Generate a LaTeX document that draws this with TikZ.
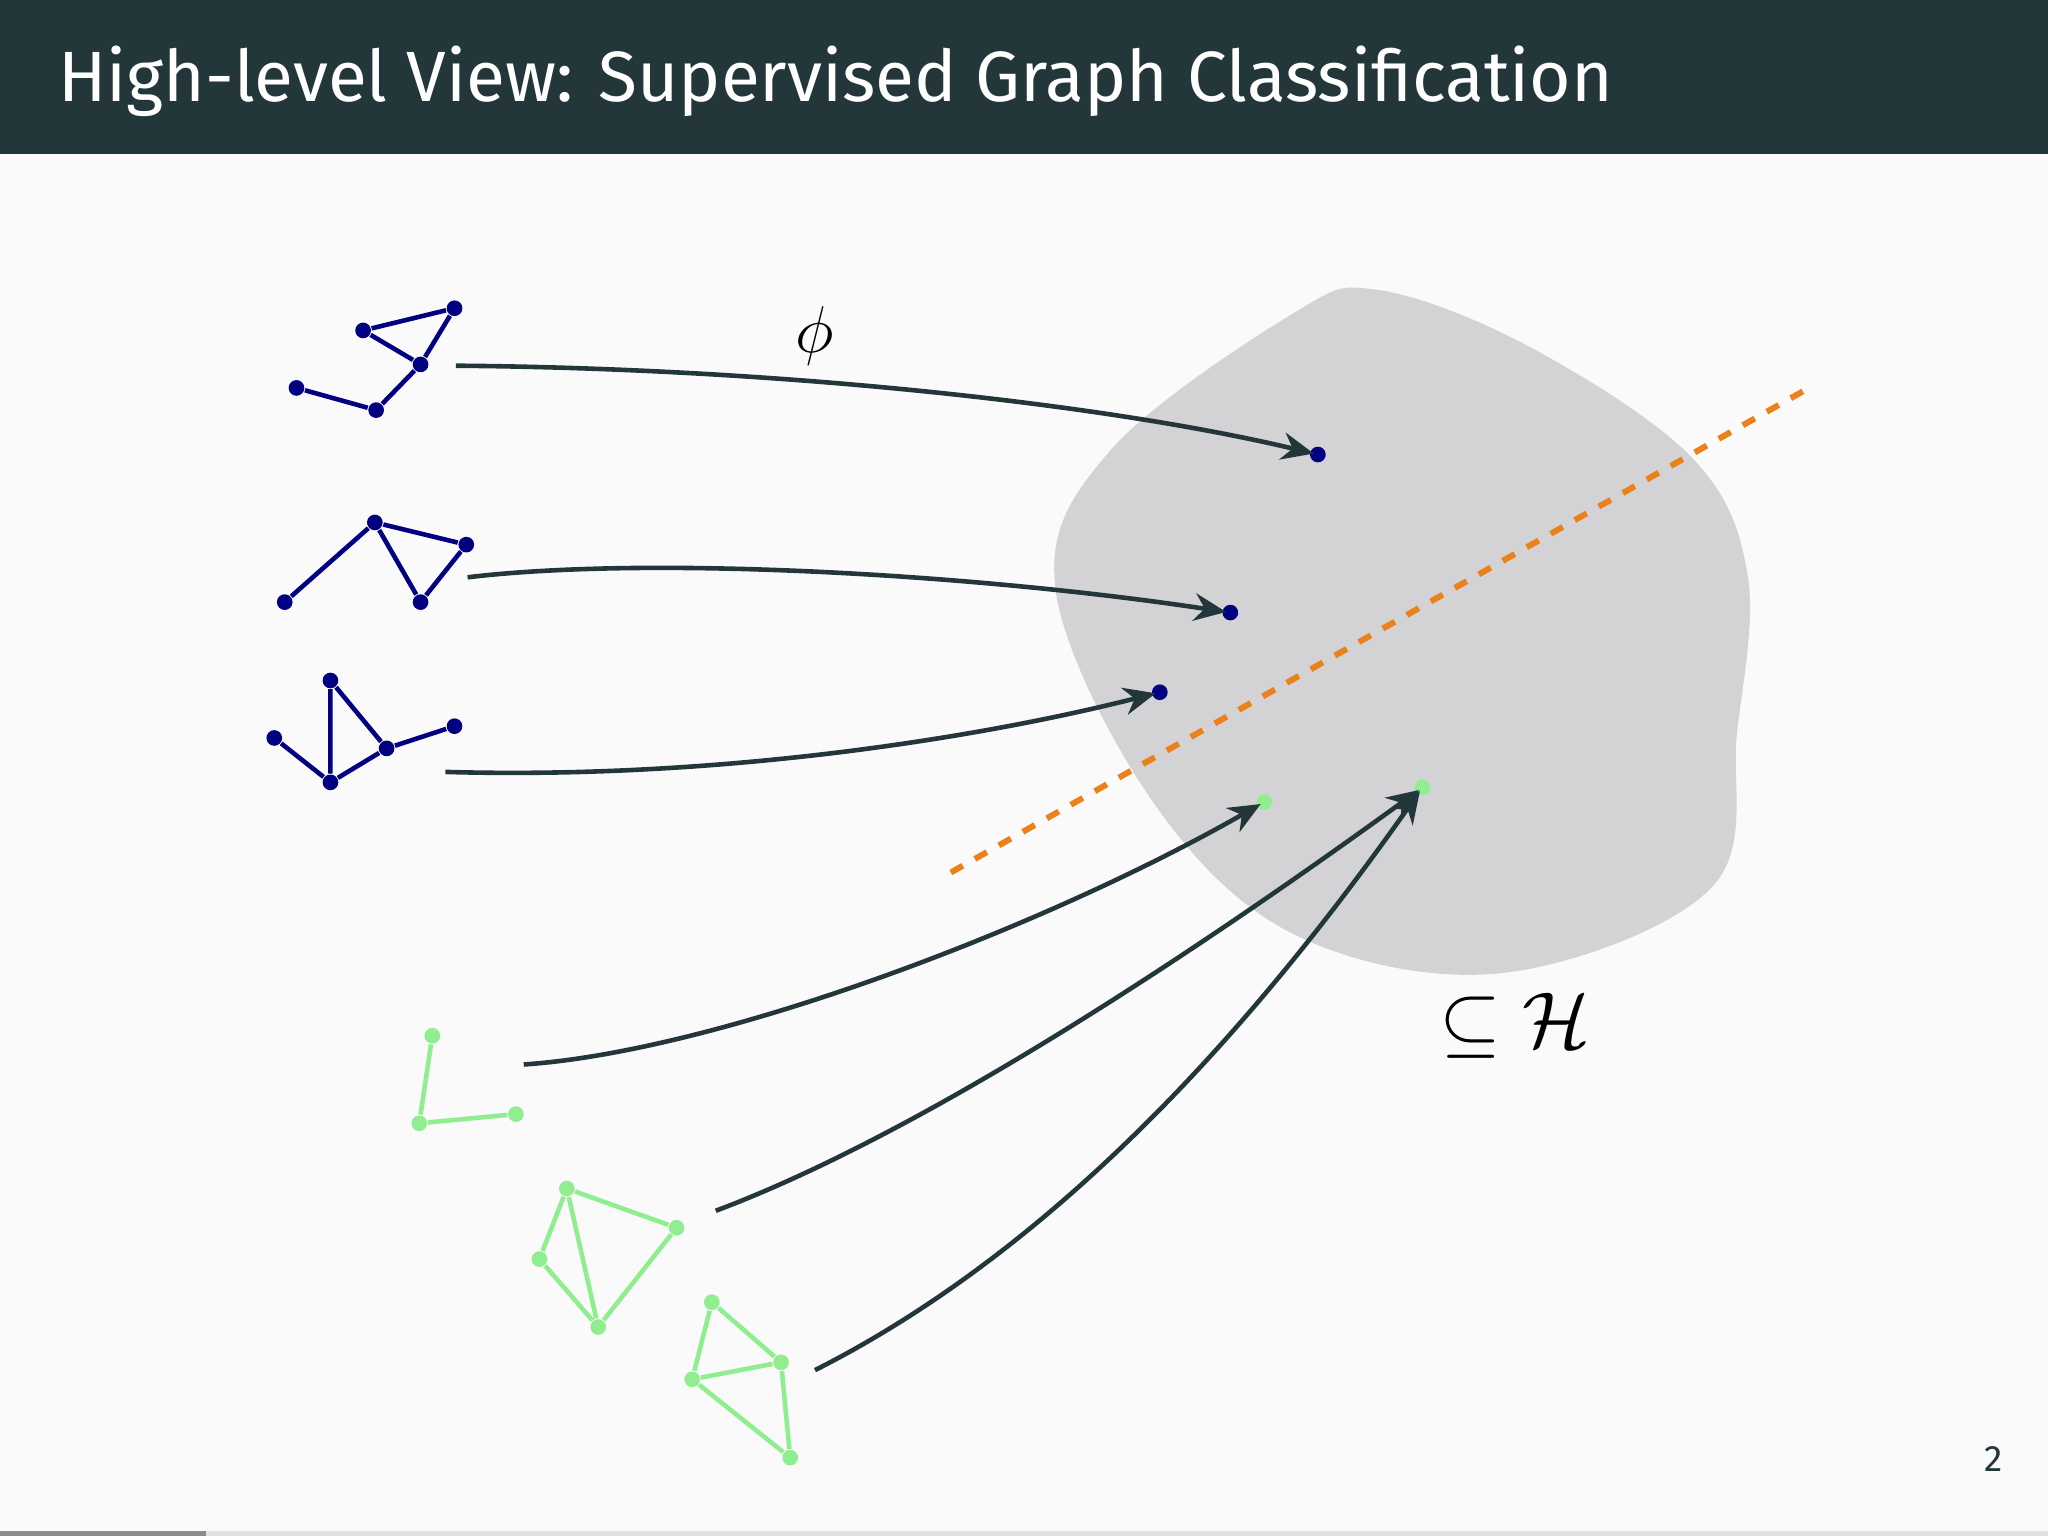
\documentclass[tikz,border=0pt]{standalone}
\usepackage{fontspec}
\setmainfont{Fira Sans}
\usetikzlibrary{arrows.meta}
\definecolor{mDark}{HTML}{23373B}
\definecolor{mBg}{HTML}{FAFAFA}
\definecolor{mOrange}{HTML}{EB811B}
\definecolor{blob}{HTML}{D3D3D5}
\definecolor{gnavy}{HTML}{000080}
\definecolor{ggreen}{HTML}{90EE90}
\tikzset{
 bdot/.style={circle,fill=gnavy,inner sep=0pt,minimum size=0.12cm},
 gdot/.style={circle,fill=ggreen,inner sep=0pt,minimum size=0.12cm},
 bedge/.style={draw=gnavy,line width=1pt},
 gedge/.style={draw=ggreen,line width=1pt},
 maparrow/.style={draw=mDark,line width=1pt,-{Stealth[length=7pt,width=6pt]},shorten >=-1pt},
}
\begin{document}
\begin{tikzpicture}[x=0.01cm,y=-0.01cm]
\useasboundingbox (0,0) rectangle (1568,1176);
\fill[mBg] (0,0) rectangle (1568,1176);
\fill[mDark] (0,0) rectangle (1568,118);
\node[anchor=base west,text=white,inner sep=0pt,font=\fontsize{15.5}{19}\selectfont] (title) at (44,78) {High-level View: Supervised Graph Classification};
\fill[black!10!mBg] (0,1172) rectangle (1568,1176);
\fill[black!45] (0,1172) rectangle (158,1176);
\node[font=\fontsize{8}{10}\selectfont,text=mDark] (pg) at (1526,1117) {2};
% blob
\fill[blob] plot[smooth cycle,tension=0.6] coordinates {(1055,222) (1170,265) (1295,350) (1338,440) (1330,560) (1310,680) (1150,745) (990,715) (880,610) (808,450) (850,345) (990,240)};
\draw[mOrange,line width=1.3pt,dashed] (728,668) -- (1385,297);
% targets
\node[bdot] (t1) at (1009,348) {};
\node[bdot] (t2) at (942,469) {};
\node[bdot] (t3) at (888,530) {};
\node[gdot] (t4) at (968,614) {};
\node[gdot] (t5) at (1089,603) {};
% graph 1
\node[bdot] (a1) at (278,253) {}; \node[bdot] (a2) at (348,236) {}; \node[bdot] (a3) at (322,279) {};
\node[bdot] (a4) at (288,314) {}; \node[bdot] (a5) at (227,297) {};
\draw[bedge] (a1)--(a2) (a1)--(a3) (a2)--(a3) (a3)--(a4) (a4)--(a5);
% graph 2
\node[bdot] (b1) at (287,400) {}; \node[bdot] (b2) at (357,417) {}; \node[bdot] (b3) at (322,461) {}; \node[bdot] (b4) at (218,461) {};
\draw[bedge] (b1)--(b2) (b2)--(b3) (b3)--(b1) (b1)--(b4);
% graph 3
\node[bdot] (c1) at (253,521) {}; \node[bdot] (c2) at (296,573) {}; \node[bdot] (c3) at (253,599) {};
\node[bdot] (c4) at (210,565) {}; \node[bdot] (c5) at (348,556) {};
\draw[bedge] (c1)--(c2) (c1)--(c3) (c2)--(c3) (c3)--(c4) (c2)--(c5);
% green 1
\node[gdot] (d1) at (331,793) {}; \node[gdot] (d2) at (321,860) {}; \node[gdot] (d3) at (395,853) {};
\draw[gedge] (d1)--(d2) (d2)--(d3);
% green 2
\node[gdot] (e1) at (434,910) {}; \node[gdot] (e2) at (518,940) {}; \node[gdot] (e3) at (458,1016) {}; \node[gdot] (e4) at (413,964) {};
\draw[gedge] (e1)--(e2) (e2)--(e3) (e3)--(e1) (e1)--(e4) (e4)--(e3);
% green 3
\node[gdot] (f1) at (545,997) {}; \node[gdot] (f2) at (598,1043) {}; \node[gdot] (f3) at (605,1116) {}; \node[gdot] (f4) at (530,1056) {};
\draw[gedge] (f1)--(f2) (f2)--(f4) (f1)--(f4) (f4)--(f3) (f2)--(f3);
% arrow starts
\coordinate (s1) at (349,280); \coordinate (s2) at (358,442); \coordinate (s3) at (341,591);
\coordinate (s4) at (401,815); \coordinate (s5) at (548,927); \coordinate (s6) at (624,1049);
\draw[maparrow] (s1) .. controls (600,282) and (850,310) .. (t1);
\draw[maparrow] (s2) .. controls (500,425) and (750,440) .. (t2);
\draw[maparrow] (s3) .. controls (550,597) and (750,565) .. (t3);
\draw[maparrow] (s4) .. controls (550,805) and (800,710) .. (t4);
\draw[maparrow] (s5) .. controls (700,870) and (900,740) .. (t5);
\draw[maparrow] (s6) .. controls (800,960) and (950,800) .. (t5);
\node[font=\fontsize{15}{18}\selectfont] (phi) at (624,257) {$\phi$};
\node[font=\fontsize{16}{19}\selectfont] (H) at (1160,785) {$\subseteq\mathcal{H}$};
\end{tikzpicture}
\end{document}
